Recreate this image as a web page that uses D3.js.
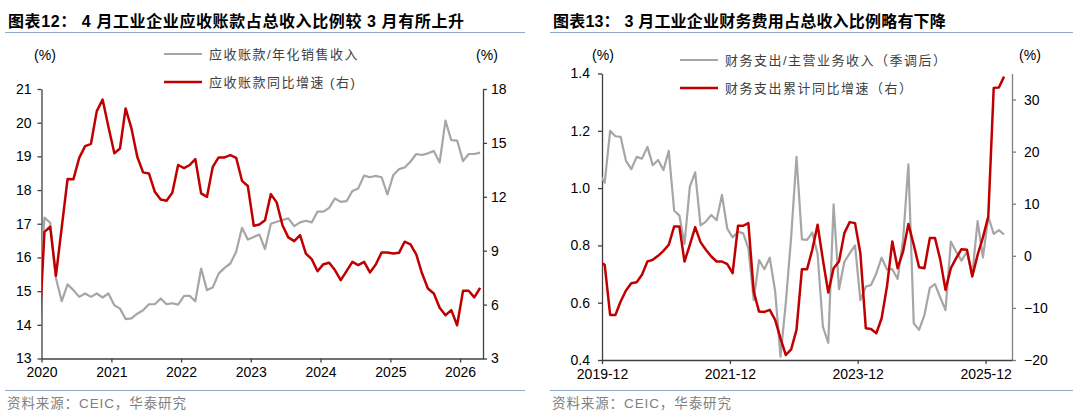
<!DOCTYPE html>
<html><head><meta charset="utf-8">
<script src="https://cdn.jsdelivr.net/npm/d3@7"></script>
<style>
body{margin:0;background:#fff}
svg text{font-family:"Liberation Sans",Arial,"Noto Sans CJK SC",sans-serif}
</style>
</head><body>
<svg id="c" width="1075" height="415"></svg>
<script>
// ---------- Left chart data (monthly, first value = 2019-12) ----------
const leftStart = "2019-12";
const receivableRatio = [14.8,
 17.18,17.03,15.39,14.70,15.20,15.03,14.83,14.93,14.83,14.93,14.81,14.93,
 14.58,14.48,14.17,14.19,14.33,14.43,14.61,14.61,14.78,14.61,14.64,14.60,
 14.86,14.86,14.70,15.67,15.03,15.11,15.52,15.69,15.82,16.17,16.88,16.53,
 16.61,16.68,16.25,17.00,17.06,17.11,17.16,16.93,17.04,17.09,17.04,17.36,
 17.36,17.47,17.75,17.65,17.67,17.97,18.05,18.43,18.38,18.42,18.38,17.87,
 18.45,18.62,18.67,18.84,19.07,19.04,19.09,19.16,18.82,20.06,19.48,19.47,
 18.86,19.07,19.07,19.11];
const receivableYoY = [3.75,
 10.05,10.33,7.60,10.30,12.99,12.97,14.17,14.82,14.95,16.77,17.41,15.90,
 14.42,14.69,16.92,15.81,14.23,13.36,13.30,12.28,11.85,11.78,12.22,13.77,
 13.60,13.77,14.10,12.19,12.00,13.67,14.19,14.19,14.32,14.17,12.89,12.60,
 10.39,10.46,10.70,12.15,11.69,10.42,9.74,9.53,9.87,8.84,8.53,7.86,
 8.25,8.33,7.92,7.36,7.86,8.38,8.20,8.38,7.79,8.23,8.90,8.90,
 8.84,8.88,9.50,9.35,8.79,7.73,6.90,6.62,5.82,5.41,5.69,4.85,
 6.77,6.77,6.40,6.93];
const leftDomain = ["2020-01","2026-05"];
const leftYearTicks = ["2020","2021","2022","2023","2024","2025","2026"];
const leftAxisTicks = [13,14,15,16,17,18,19,20,21];
const leftRightTicks = [3,6,9,12,15,18];

// ---------- Right chart data (monthly, first value = 2019-11) ----------
const rightStart = "2019-11";
const financeRatio = [1.049,
 1.019,1.200,1.181,1.179,1.095,1.066,1.109,1.103,1.144,1.080,1.098,1.063,
 1.130,0.921,0.905,0.805,1.005,1.055,0.870,0.883,0.906,0.888,0.976,0.858,
 0.828,0.848,0.842,0.790,0.609,0.749,0.717,0.757,0.640,0.412,0.600,0.830,
 1.109,0.821,0.819,0.845,0.770,0.516,0.460,0.943,0.647,0.743,0.772,0.800,
 0.609,0.656,0.662,0.702,0.757,0.716,0.717,0.683,0.819,1.083,0.528,0.505,
 0.557,0.652,0.665,0.619,0.574,0.813,0.778,0.747,0.778,0.697,0.885,0.758,
 0.900,0.840,0.853,0.838];
const financeYoY = [-1.09,
 -1.73,-11.35,-11.35,-8.78,-6.67,-5.26,-5.06,-3.65,-1.09,-0.77,0.00,0.96,
 2.12,5.64,5.64,-1.09,2.12,5.51,2.63,1.15,-0.13,-1.09,-1.09,-1.60,
 -3.33,5.77,5.77,6.28,-6.86,-10.70,-10.77,-10.38,-12.31,-15.83,-19.04,-17.95,
 -14.23,-2.56,-2.56,1.15,5.96,-0.77,-7.05,-2.37,-1.09,4.36,6.47,6.28,
 0.50,-13.91,-14.04,-14.87,-11.99,-5.90,2.76,-2.37,0.83,6.09,2.12,-2.18,
 -2.37,3.40,3.40,-0.64,-6.54,-2.37,-0.45,1.28,1.15,-3.97,0.19,3.53,
 7.56,32.24,32.30,34.40];
const rightDomain = ["2019-12","2026-05"];
const rightDateTicks = ["2019-12","2021-12","2023-12","2025-12"];
const rightAxisTicks = [0.4,0.6,0.8,1.0,1.2,1.4];
const rightRightTicks = [-20,-10,0,10,20,30];

// ---------- helpers ----------
const parseM = d3.timeParse("%Y-%m");
const parseY = d3.timeParse("%Y");
function midMonth(start, i){
  const a = d3.timeMonth.offset(parseM(start), i);
  const b = d3.timeMonth.offset(a, 1);
  return new Date((+a + +b)/2);
}
const svg = d3.select("#c");
const CJK = '"Liberation Sans",Arial,"Noto Sans CJK SC",sans-serif';
const RED = "#C00000", GREY = "#A6A6A6";

function header(x0, x1, title, spacing){
  svg.append("text").attr("x", x0+3).attr("y", 27).attr("font-size", 16)
    .attr("letter-spacing", spacing)
    .attr("font-weight", "bold").attr("fill", "#000").style("font-family", CJK).text(title);
  svg.append("line").attr("x1", x0).attr("x2", x1).attr("y1", 32.5).attr("y2", 32.5)
    .attr("stroke", "#93A9C9").attr("stroke-width", 1);
  svg.append("line").attr("x1", x0).attr("x2", x1).attr("y1", 390.5).attr("y2", 390.5)
    .attr("stroke", "#93A9C9").attr("stroke-width", 1);
  svg.append("text").attr("x", x0+2).attr("y", 408).attr("font-size", 13.5)
    .attr("letter-spacing", 0.9)
    .attr("fill", "#808080").style("font-family", CJK).text("资料来源：CEIC，华泰研究");
}
function legendItem(x, y, color, w, label){
  svg.append("line").attr("x1", x).attr("x2", x+38).attr("y1", y).attr("y2", y)
    .attr("stroke", color).attr("stroke-width", w);
  svg.append("text").attr("x", x+45).attr("y", y).attr("dy", "0.35em").attr("font-size", 13)
    .attr("letter-spacing", 1.5).attr("fill", "#404040").style("font-family", CJK).text(label);
}
function styleAxis(g, color){
  g.select(".domain").attr("stroke", color).attr("stroke-width", 1.3);
  g.selectAll(".tick line").attr("stroke", color).attr("stroke-width", 1.3);
  g.selectAll(".tick text").attr("fill", "#000").attr("font-size", 14)
    .style("font-family", '"Liberation Sans",Arial,sans-serif');
}

function chart(cfg){
  const x = d3.scaleTime().domain(cfg.domain).range([cfg.left, cfg.right]);
  const yL = d3.scaleLinear().domain(cfg.yL).range([cfg.bottom, cfg.top]);
  const yR = d3.scaleLinear().domain(cfg.yR).range([cfg.bottom, cfg.top]);
  const id = "clip" + cfg.key;
  svg.append("clipPath").attr("id", id).append("rect")
    .attr("x", cfg.left).attr("y", cfg.top-10).attr("width", cfg.right-cfg.left).attr("height", cfg.bottom-cfg.top+20);
  const gL = svg.append("g").attr("transform", `translate(${cfg.left},0)`)
    .call(d3.axisLeft(yL).tickValues(cfg.yLTicks).tickSize(4).tickSizeOuter(0).tickPadding(cfg.padL).tickFormat(cfg.fmtL));
  styleAxis(gL, cfg.axisColorL);
  const gR = svg.append("g").attr("transform", `translate(${cfg.right},0)`)
    .call(d3.axisRight(yR).tickValues(cfg.yRTicks).tickSize(4).tickSizeOuter(0).tickPadding(cfg.padR));
  styleAxis(gR, cfg.axisColorR);
  const gX = svg.append("g").attr("transform", `translate(0,${cfg.bottom})`)
    .call(d3.axisBottom(x).tickValues(cfg.xTicks).tickSize(4).tickSizeOuter(0).tickPadding(5).tickFormat(cfg.fmtX));
  styleAxis(gX, "#404040");

  const lineL = d3.line().x((d,i)=>x(midMonth(cfg.start,i))).y(d=>yL(d));
  const lineR = d3.line().x((d,i)=>x(midMonth(cfg.start,i))).y(d=>yR(d));
  const plot = svg.append("g").attr("clip-path", `url(#${id})`);
  plot.append("path").datum(cfg.sL).attr("d", lineL).attr("fill", "none")
    .attr("stroke", GREY).attr("stroke-width", 2.2).attr("stroke-linejoin", "round");
  plot.append("path").datum(cfg.sR).attr("d", lineR).attr("fill", "none")
    .attr("stroke", RED).attr("stroke-width", 2.5).attr("stroke-linejoin", "round");

  svg.append("text").attr("x", cfg.pctL).attr("y", 55).attr("text-anchor", "middle").attr("dy", "0.35em")
    .attr("font-size", 14).attr("fill", "#000").text("(%)");
  svg.append("text").attr("x", cfg.pctR).attr("y", 55).attr("text-anchor", "middle").attr("dy", "0.35em")
    .attr("font-size", 14).attr("fill", "#000").text("(%)");
  legendItem(cfg.legX, cfg.legY1, GREY, 2.2, cfg.labL);
  legendItem(cfg.legX, cfg.legY2, RED, 2.5, cfg.labR);
}

header(5, 525, "图表12：  4 月工业企业应收账款占总收入比例较 3 月有所上升", 0.6);
header(550, 1073, "图表13：  3 月工业企业财务费用占总收入比例略有下降", 0.2);

chart({
  key: "L", start: leftStart, domain: leftDomain.map(parseM),
  left: 41.5, right: 483, top: 89, bottom: 358.5,
  yL: [13,21], yR: [3,18], yLTicks: leftAxisTicks, yRTicks: leftRightTicks,
  xTicks: leftYearTicks.map(parseY), fmtX: d3.timeFormat("%Y"), fmtL: d3.format("d"),
  padL: 6, padR: 4, axisColorL: "#404040", axisColorR: "#404040",
  sL: receivableRatio, sR: receivableYoY,
  pctL: 45, pctR: 487, legX: 164, legY1: 54, legY2: 82,
  labL: "应收账款/年化销售收入", labR: "应收账款同比增速 (右)"
});
chart({
  key: "R", start: rightStart, domain: rightDomain.map(parseM),
  left: 602, right: 1012, top: 73.5, bottom: 360,
  yL: [0.4,1.4], yR: [-20,35], yLTicks: rightAxisTicks, yRTicks: rightRightTicks,
  xTicks: rightDateTicks.map(parseM), fmtX: d3.timeFormat("%Y-%m"), fmtL: d3.format(".1f"),
  padL: 8, padR: 8, axisColorL: "#404040", axisColorR: "#808080",
  sL: financeRatio, sR: financeYoY,
  pctL: 603, pctR: 1030, legX: 680, legY1: 60, legY2: 88,
  labL: "财务支出/主营业务收入（季调后）", labR: "财务支出累计同比增速（右）"
});
</script>
</body></html>
